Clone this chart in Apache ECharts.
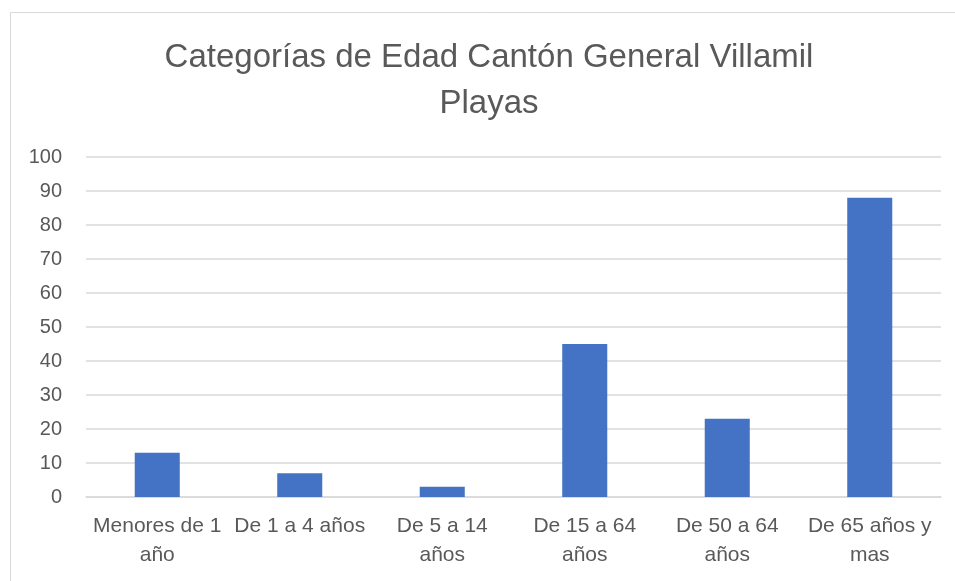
<!DOCTYPE html>
<html>
<head>
<meta charset="utf-8">
<script src="https://cdn.jsdelivr.net/npm/echarts@6/dist/echarts.min.js"></script>
<style>
  html, body { margin: 0; padding: 0; background: #fff; }
  #chart { width: 955px; height: 581px; }
</style>
</head>
<body>
<div id="chart"></div>
<script>
// 数据
const categories = ['Menores de 1\naño', 'De 1 a 4 años', 'De 5 a 14\naños', 'De 15 a 64\naños', 'De 50 a 64\naños', 'De 65 años y\nmas'];
const values = [13, 7, 3, 45, 23, 88];
const titleLines = ['Categorías de Edad Cantón General Villamil', 'Playas'];

const FONT = '"Liberation Sans", Arial, sans-serif';
const TEXT = '#595959';

const chart = echarts.init(document.getElementById('chart'));

const option = {
  backgroundColor: '#fff',
  animation: false,
  title: {
    text: titleLines.join('\n'),
    left: 489,
    top: 35,
    textAlign: 'center',
    padding: 0,
    textStyle: { fontFamily: FONT, fontSize: 33, fontWeight: 'normal', color: TEXT, lineHeight: 46 }
  },
  graphic: [
    {
      type: 'rect',
      shape: { x: 10.5, y: 12.5, width: 960, height: 600 },
      style: { fill: 'none', stroke: '#d9d9d9', lineWidth: 1 },
      silent: true
    }
  ],
  grid: { left: 86, right: 14, top: 157, bottom: 84, containLabel: false },
  xAxis: {
    type: 'category',
    data: categories,
    axisLine: { lineStyle: { color: '#d9d9d9', width: 1.5 } },
    axisTick: { show: false },
    axisLabel: { interval: 0, margin: 15, fontFamily: FONT, fontSize: 21, color: TEXT, lineHeight: 29 }
  },
  yAxis: {
    type: 'value',
    min: 0,
    max: 100,
    interval: 10,
    axisLine: { show: false },
    axisTick: { show: false },
    splitLine: { lineStyle: { color: '#d9d9d9', width: 1.5 } },
    axisLabel: { margin: 24, fontFamily: FONT, fontSize: 20, color: TEXT }
  },
  series: [
    {
      type: 'bar',
      data: values,
      barWidth: '31.6%',
      itemStyle: { color: '#4472c4' }
    }
  ]
};

chart.setOption(option);
</script>
</body>
</html>
